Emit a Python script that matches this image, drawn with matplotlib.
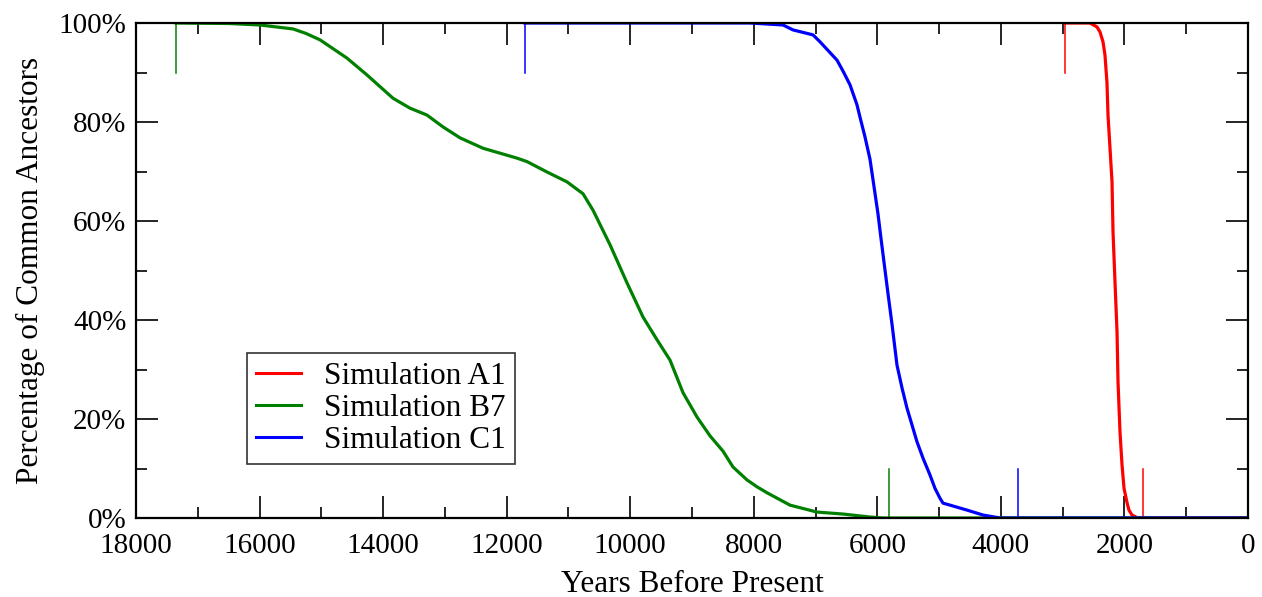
import matplotlib
matplotlib.use("Agg")
import matplotlib.pyplot as plt
from matplotlib.ticker import MultipleLocator

# ---- data (years before present, percent) ----
a1_years = [2963, 2558, 2444, 2396, 2347, 2315, 2283, 2266, 2201, 2185, 2153, 2120, 2104,
            2072, 2039, 2007, 1960, 1927, 1878, 1782, 0]
a1_pct   = [100, 100, 99.2, 98.2, 96.2, 93.5, 88.0, 81.4, 67.9, 57.8, 47.7, 37.6, 27.5,
            17.4, 10.7, 6.0, 3.2, 1.6, 0.6, 0.0, 0.0]

b7_years = [17353, 16500, 15993, 15459, 15250, 15022, 14584, 14261, 13840, 13565, 13290, 13030,
            12755, 12383, 11833, 11671, 11347, 11023, 10764, 10603, 10327, 10052, 9793, 9566,
            9356, 9145, 8919, 8709, 8498, 8336, 8110, 7948, 7786, 7414, 6977, 6556, 6119,
            5900, 0]
b7_pct   = [100, 99.9, 99.6, 98.8, 97.9, 96.6, 92.9, 89.5, 84.8, 82.8, 81.4, 79.0,
            76.8, 74.7, 72.7, 72.0, 69.9, 67.9, 65.5, 62.2, 55.2, 47.5, 40.6, 36.0,
            31.9, 25.3, 20.4, 16.6, 13.5, 10.3, 7.7, 6.3, 5.1, 2.6, 1.2, 0.8, 0.2,
            0.0, 0.0]

c1_years = [11703, 8061, 7527, 7365, 7041, 6928, 6653, 6556, 6442, 6330, 6281, 6200, 6119,
            5990, 5942, 5876, 5827, 5763, 5682, 5601, 5520, 5439, 5358, 5261, 5148, 5067,
            4986, 4937, 4824, 4549, 4290, 4014, 0]
c1_pct   = [100, 100, 99.6, 98.6, 97.6, 96.2, 92.5, 90.3, 87.5, 83.5, 81.0, 77.0, 72.5,
            61.5, 56.6, 50.1, 45.3, 39.2, 30.9, 26.3, 22.2, 18.8, 15.4, 12.1, 8.7, 6.0,
            4.0, 3.0, 2.6, 1.6, 0.6, 0.0, 0.0]

# start / end marker years for each simulation
a1_marks = [2963, 1700]
b7_marks = [17353, 5811]
c1_marks = [11703, 3723]

labels = ["Simulation A1", "Simulation B7", "Simulation C1"]
x_ticks = [18000, 16000, 14000, 12000, 10000, 8000, 6000, 4000, 2000, 0]
y_ticks = [0, 20, 40, 60, 80, 100]
y_ticklabels = ["0%", "20%", "40%", "60%", "80%", "100%"]

plt.rcParams['font.family'] = ['Liberation Serif', 'DejaVu Serif']
FS = 21
LFS = 22.5

fig = plt.figure(figsize=(12.62, 5.97), dpi=100)
ax = fig.add_axes([136/1262, 79/597, 1112/1262, 495/597])

colors = ["#ff0000", "#008000", "#0000ff"]
series = [(a1_years, a1_pct, a1_marks), (b7_years, b7_pct, b7_marks), (c1_years, c1_pct, c1_marks)]

for (xs, ys, marks), c, lab in zip(series, colors, labels):
    ax.plot(xs, ys, color=c, lw=2.3, label=lab, solid_joinstyle='round', zorder=3)
    ax.plot([marks[0], marks[0]], [90, 100], color=c, lw=1.1, zorder=2)
    ax.plot([marks[1], marks[1]], [0, 10], color=c, lw=1.1, zorder=2)

ax.set_xlim(18000, 0)
ax.set_ylim(0, 100)
ax.set_xticks(x_ticks)
ax.set_xticklabels([str(v) for v in x_ticks])
ax.set_yticks(y_ticks)
ax.set_yticklabels(y_ticklabels)
ax.xaxis.set_minor_locator(MultipleLocator(1000))
ax.yaxis.set_minor_locator(MultipleLocator(10))

ax.tick_params(which='both', direction='in', top=True, right=True, labelsize=FS, width=1.2, color='black')
ax.tick_params(which='major', length=16)
ax.tick_params(which='minor', length=8)
ax.tick_params(axis='x', which='major', pad=11)
ax.tick_params(axis='y', which='major', pad=7)
for s in ax.spines.values():
    s.set_linewidth(1.6)
    s.set_zorder(4)

ax.set_xlabel("Years Before Present", fontsize=LFS, labelpad=8)
ax.set_ylabel("Percentage of Common Ancestors", fontsize=LFS, labelpad=10)

leg = ax.legend(loc='upper left', bbox_to_anchor=(0.0998, 0.333), borderaxespad=0,
                fontsize=LFS, frameon=True, fancybox=False, edgecolor='black',
                handlelength=1.45, handletextpad=0.75, borderpad=0.28, labelspacing=0.1)
leg.get_frame().set_linewidth(1.2)
for line in leg.get_lines():
    line.set_linewidth(2.2)

fig.savefig("out.png", dpi=100)
